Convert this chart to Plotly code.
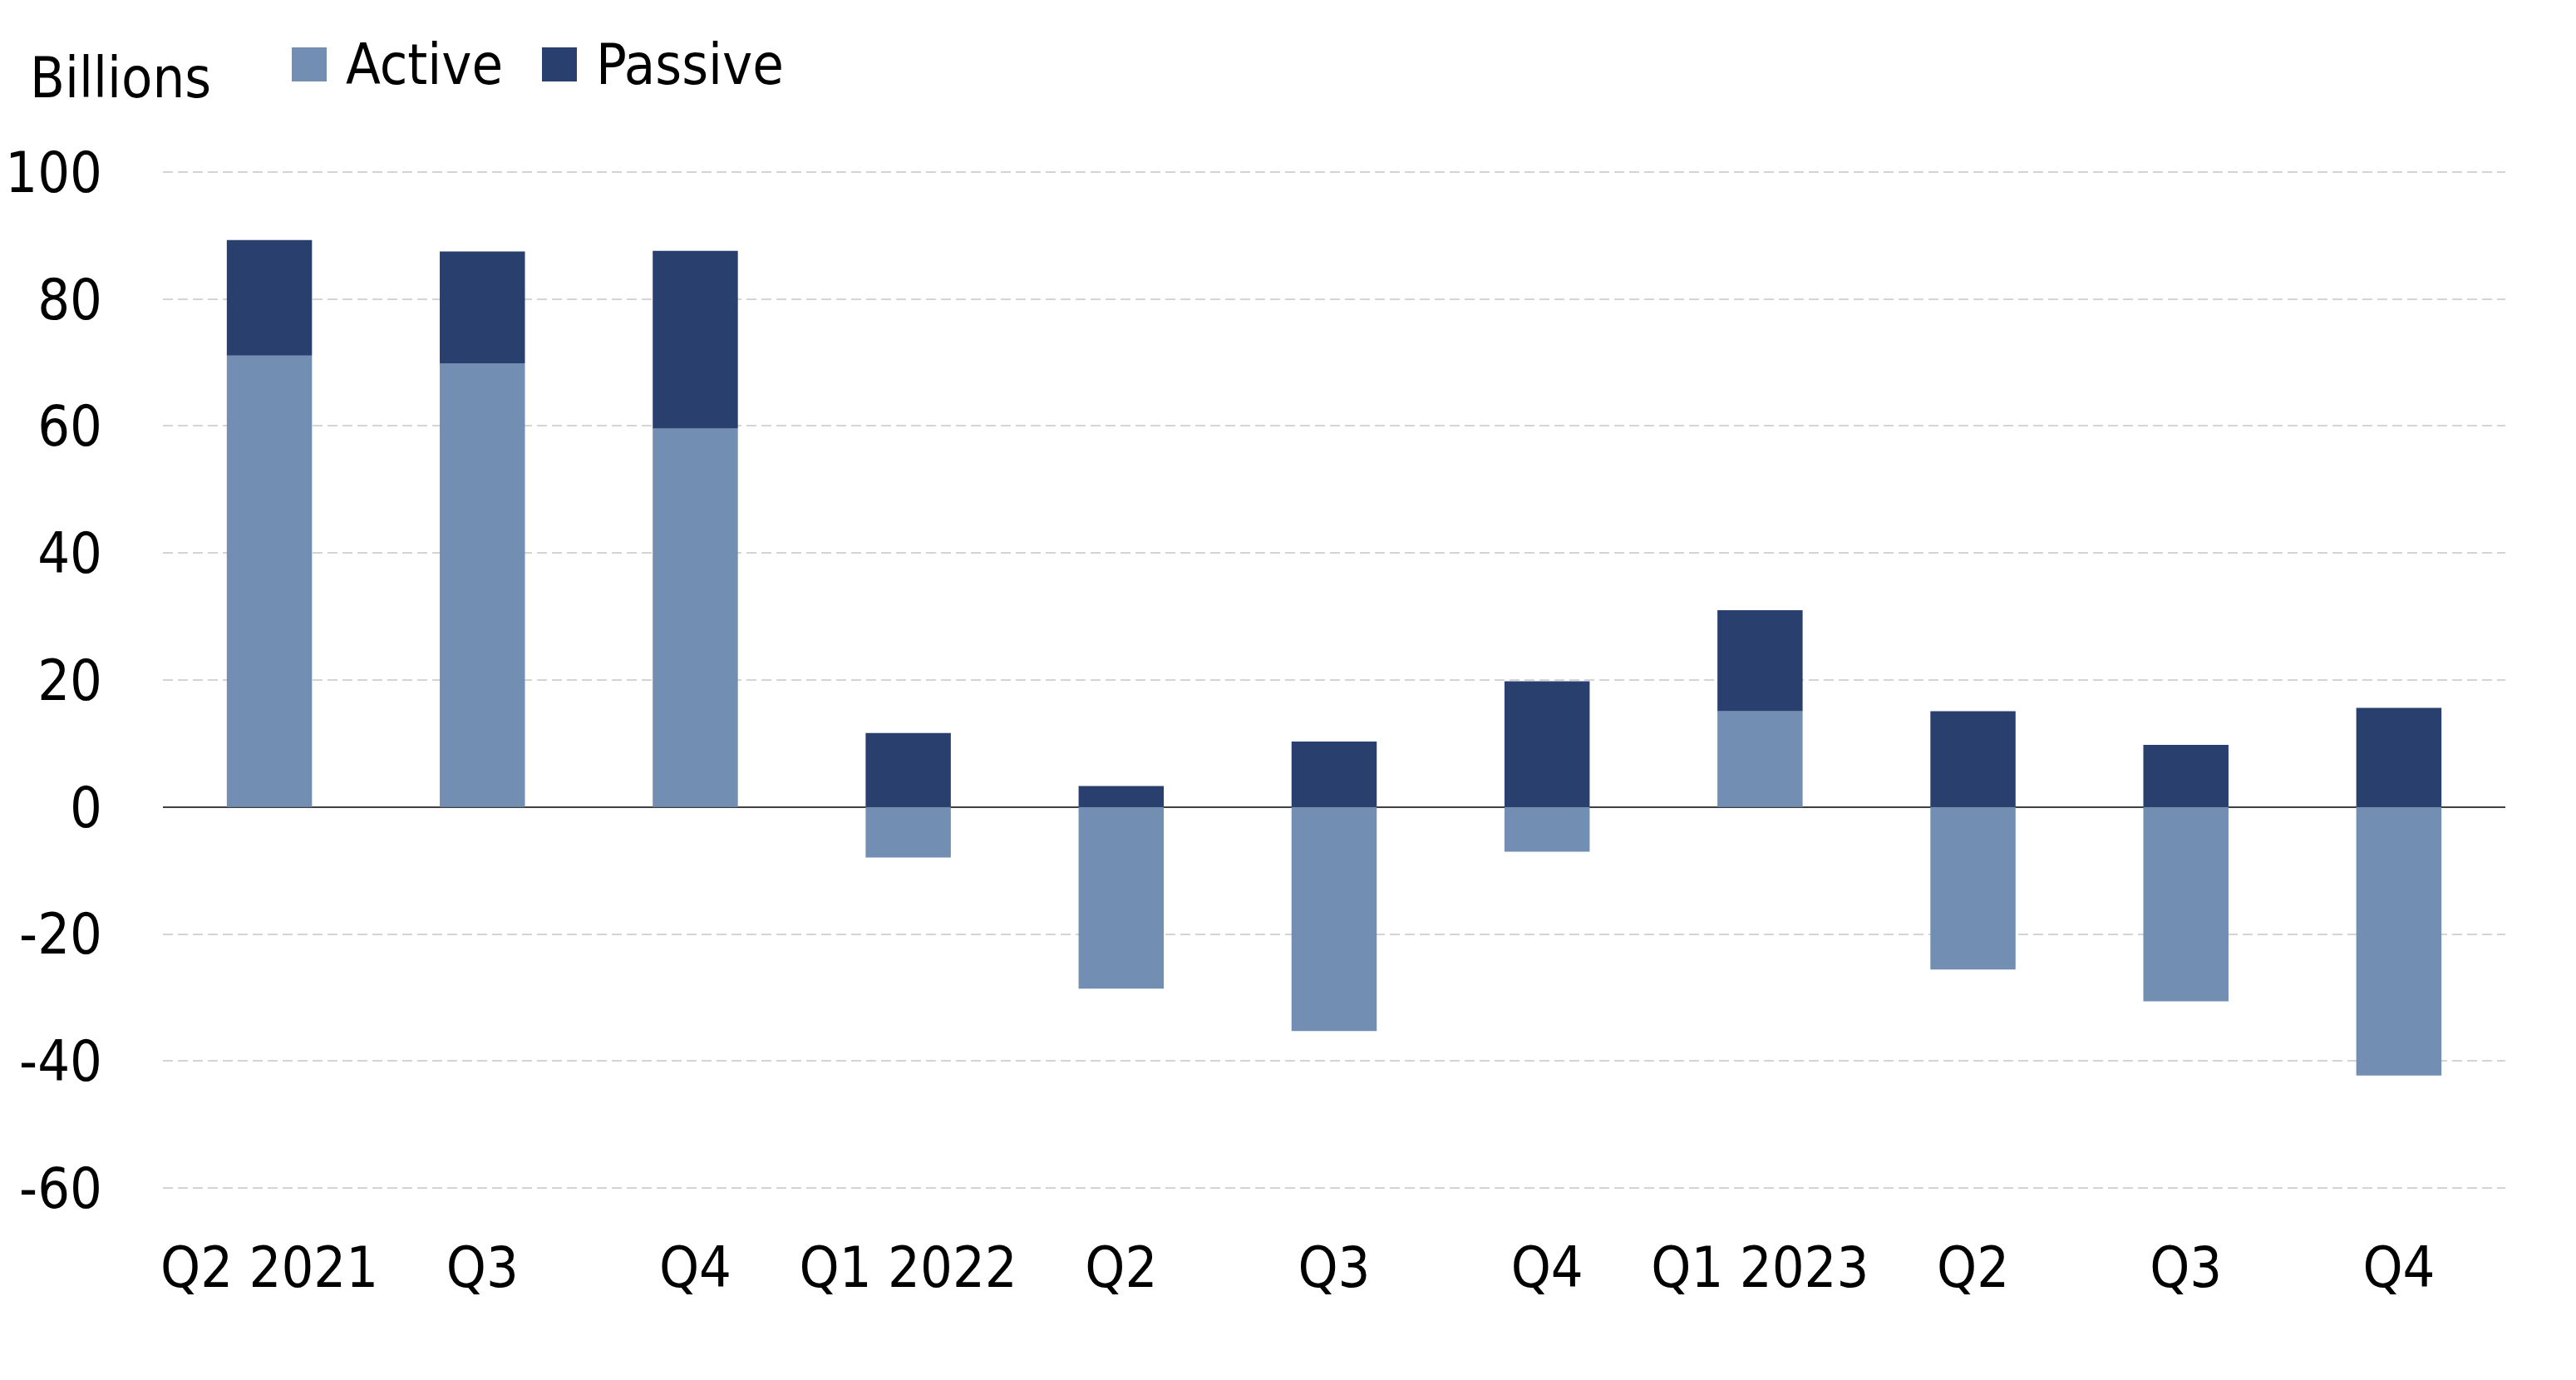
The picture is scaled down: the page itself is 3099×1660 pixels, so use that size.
import plotly.graph_objects as go

categories = ["Q2 2021", "Q3", "Q4", "Q1 2022", "Q2", "Q3", "Q4", "Q1 2023", "Q2", "Q3", "Q4"]
active = [71.1, 69.9, 59.6, -7.95, -28.6, -35.3, -7.05, 15.1, -25.6, -30.6, -42.3]
passive = [18.2, 17.6, 28.0, 11.65, 3.3, 10.3, 19.8, 15.9, 15.1, 9.8, 15.6]
y_tick_values = [100, 80, 60, 40, 20, 0, -20, -40, -60]
y_tick_labels = ["100", "80", "60", "40", "20", "0", "-20", "-40", "-60"]

ACTIVE_COLOR = "#728EB2"
PASSIVE_COLOR = "#293F6E"
FONT = "Liberation Sans Narrow, Arial Narrow, DejaVu Sans Condensed, sans-serif"
FS = 68

W, H = 3099, 1660
L, R, T, B = 196, 85, 205, 229
x_idx = list(range(len(categories)))

fig = go.Figure()
fig.add_trace(go.Bar(x=x_idx, y=active, name="Active", marker_color=ACTIVE_COLOR,
                     marker_line_width=0, showlegend=False))
fig.add_trace(go.Bar(x=x_idx, y=passive, name="Passive", marker_color=PASSIVE_COLOR,
                     marker_line_width=0, showlegend=False))

def px_x(px):
    return (px - L) / (W - L - R)

def px_y(py):
    return 1 - (py - T) / (H - T - B)

shapes = []
annotations = []
legend_items = [("Active", ACTIVE_COLOR, 351, 414), ("Passive", PASSIVE_COLOR, 652, 715)]
for label, color, sx, tx in legend_items:
    shapes.append(dict(type="rect", xref="paper", yref="paper",
                       x0=px_x(sx), x1=px_x(sx + 42), y0=px_y(98), y1=px_y(57),
                       fillcolor=color, line_width=0))
    annotations.append(dict(text=label, xref="paper", yref="paper", x=px_x(tx), y=px_y(77),
                            xanchor="left", yanchor="middle", showarrow=False,
                            font=dict(family=FONT, size=FS, color="#000000")))
annotations.append(dict(text="Billions", xref="paper", yref="paper", x=px_x(34), y=px_y(94),
                        xanchor="left", yanchor="middle", showarrow=False,
                        font=dict(family=FONT, size=FS, color="#000000")))

fig.update_layout(
    width=W, height=H,
    margin=dict(l=L, r=R, t=T, b=B, pad=0),
    barmode="relative",
    bargap=0.6,
    plot_bgcolor="white", paper_bgcolor="white",
    font=dict(family=FONT, size=FS, color="#000000"),
    shapes=shapes, annotations=annotations,
    showlegend=False,
)
fig.update_xaxes(
    tickmode="array", tickvals=x_idx, ticktext=categories,
    range=[-0.5, len(categories) - 0.5],
    showgrid=False, showline=False, zeroline=False, automargin=False,
    ticks="", ticklabelstandoff=48,
    tickfont=dict(family=FONT, size=FS, color="#000000"),
)
fig.update_yaxes(
    range=[-60.26, 100.26], tickmode="array", tickvals=y_tick_values, ticktext=y_tick_labels,
    showgrid=True, gridcolor="#D4D4D4", gridwidth=2, griddash="12px,6px",
    zeroline=True, zerolinecolor="#404040", zerolinewidth=2,
    showline=False, ticks="", ticklabelstandoff=72, automargin=False,
    tickfont=dict(family=FONT, size=FS, color="#000000"),
)

fig.write_html("out.html")
